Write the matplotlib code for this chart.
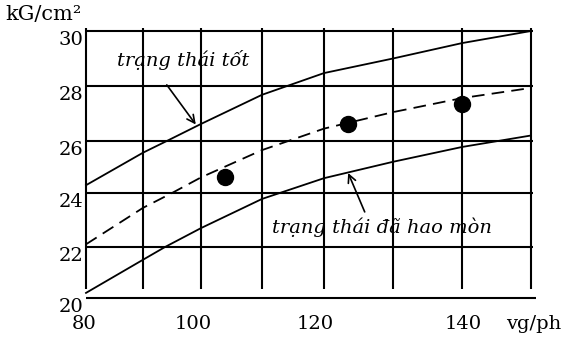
#!/usr/bin/env python3
#
import sys

import matplotlib
matplotlib.use('Agg')
import matplotlib.pyplot as plt
import numpy as np

from matplotlib.transforms import ScaledTranslation, blended_transform_factory

plt.rcParams['font.family'] = ['DejaVu Serif']
plt.rcParams['font.size'] = 14

# readings from the scanned chart (speed vg/ph, pressure kG/cm2)
X_GRID = [80, 90, 100, 110, 120, 130, 140, 150]
Y_GRID = [20, 22, 24, 26, 28, 30]
X_LABELS = ['80', '100', '120', '140', 'vg/ph']
X_LABEL_AT = [80, 100, 120, 140, 150]

GOOD_X = [80, 90, 94.1, 100, 110, 120, 130, 140, 150]
GOOD_Y = [24.3, 25.55, 26.0, 26.62, 27.68, 28.47, 29.0, 29.56, 30.0]

MID_X = [80, 90, 95, 100, 110, 120, 130, 140, 150]
MID_Y = [22.1, 23.45, 24.0, 24.6, 25.65, 26.45, 27.05, 27.56, 27.93]

WORN_X = [80, 90, 93.8, 100, 110, 120, 130, 140, 150]
WORN_Y = [20.2, 21.5, 22.0, 22.7, 23.78, 24.57, 25.2, 25.77, 26.2]

DOT_X = [103.9, 123.5, 140]
DOT_Y = [24.6, 26.6, 27.35]

# the hand drawn grid is not evenly spaced: pixel position of each grid line
X_PIX = [86, 143, 201, 262, 324, 393, 462, 531]
Y_PIX = [-298, -247, -193, -141, -86, -31]


def interp_ext(val, xpt, fpt):
  val = np.asarray(val, dtype=float)
  out = np.interp(val, xpt, fpt)
  low = val < xpt[0]
  high = val > xpt[-1]
  out = np.where(low, fpt[0] + (val - xpt[0]) * (fpt[1] - fpt[0]) / (xpt[1] - xpt[0]), out)
  out = np.where(high, fpt[-1] + (val - xpt[-1]) * (fpt[-1] - fpt[-2]) / (xpt[-1] - xpt[-2]), out)
  return out


def graph(filename):
  fig = plt.figure(figsize=(5.66, 3.42), dpi=100)
  axgc = fig.add_axes([86 / 566, 1 - 298 / 342, 445 / 566, 267 / 342])
  axgc.set_xscale('function', functions=(lambda v: interp_ext(v, X_GRID, X_PIX),
                                         lambda p: interp_ext(p, X_PIX, X_GRID)))
  axgc.set_yscale('function', functions=(lambda v: interp_ext(v, Y_GRID, Y_PIX),
                                         lambda p: interp_ext(p, Y_PIX, Y_GRID)))
  axgc.set_xlim(80, 150)
  axgc.set_ylim(20, 30)
  axgc.set_axis_off()

  # grid drawn by hand: verticals stop short of the bottom line
  axgc.vlines(X_GRID, 20.35, 30.1, color='black', linewidth=1.5, clip_on=False)
  axgc.hlines(Y_GRID[1:], 80, 150.3, color='black', linewidth=1.5, clip_on=False)
  axgc.hlines(Y_GRID[0], 80, 150.7, color='black', linewidth=1.5, clip_on=False)

  axgc.plot(GOOD_X, GOOD_Y, color='black', linewidth=1.3, clip_on=False)
  axgc.plot(WORN_X, WORN_Y, color='black', linewidth=1.3, clip_on=False)
  axgc.plot(MID_X, MID_Y, color='black', linewidth=1.3, dashes=(7, 4), clip_on=False)
  axgc.plot(DOT_X, DOT_Y, 'o', color='black', markersize=11.5, clip_on=False)

  arrow = dict(arrowstyle='->', color='black', linewidth=1.2, shrinkA=0, shrinkB=0)
  axgc.annotate('', xy=(99.1, 26.6), xytext=(94.1, 28.04), arrowprops=arrow)
  axgc.text(97.0, 28.95, 'trạng thái tốt', fontsize=14, fontstyle='italic',
            ha='center', va='center')
  axgc.annotate('', xy=(123.5, 24.77), xytext=(125.9, 23.3), arrowprops=arrow)
  axgc.text(128.4, 22.74, 'trạng thái đã hao mòn', fontsize=14, fontstyle='italic',
            ha='center', va='center')

  ytr = blended_transform_factory(axgc.transAxes, axgc.transData) + \
    ScaledTranslation(-0.03, -0.09, fig.dpi_scale_trans)
  for val in Y_GRID:
    axgc.text(0, val, str(val), transform=ytr, ha='right', va='center')

  nudges = [-0.02, -0.08, -0.09, 0.01, 0.03]
  for pos, (val, label) in enumerate(zip(X_LABEL_AT, X_LABELS)):
    xtr = blended_transform_factory(axgc.transData, axgc.transAxes) + \
      ScaledTranslation(nudges[pos], -0.26, fig.dpi_scale_trans)
    axgc.text(val, 0, label, transform=xtr, ha='center', va='center')

  fig.text(5 / 566, 1 - 15 / 342, 'kG/cm²', ha='left', va='center', fontsize=15)

  plt.savefig(filename, dpi=100)
  plt.close()
  return filename


def main():
  graph('out.png')


if __name__ == "__main__":
  sys.exit(main())
